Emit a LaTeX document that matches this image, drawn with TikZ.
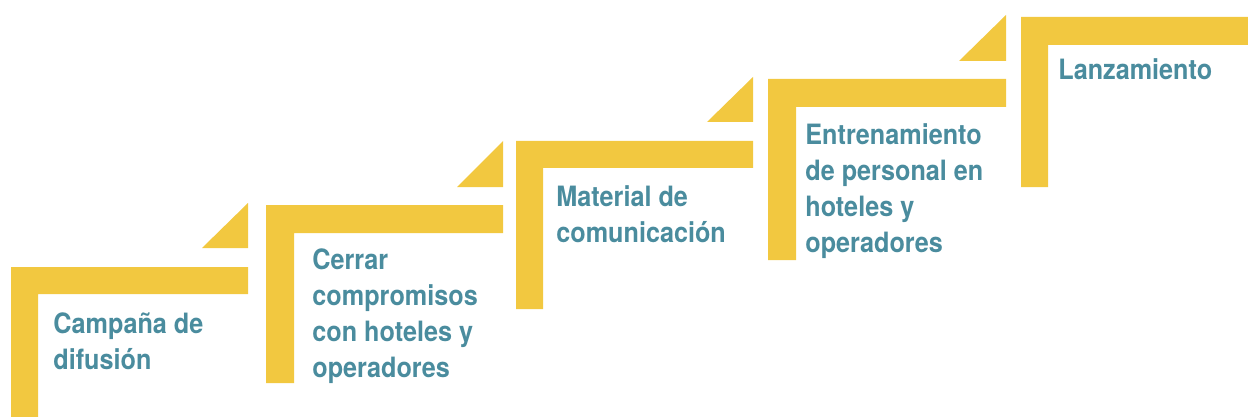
\documentclass[tikz,border=0pt]{standalone}
\usepackage{fontspec}
\newfontfamily\pasofont{TeX Gyre Heros}[FakeStretch=0.9]
\definecolor{amarillo}{RGB}{242,200,64}
\definecolor{azulverde}{RGB}{74,140,158}
\begin{document}
\begin{tikzpicture}[x=0.5pt,y=-0.5pt,
    barra/.style={fill=amarillo},
    paso/.style={anchor=north west,inner sep=0pt,align=left,text=azulverde,
      font=\pasofont\bfseries\fontsize{14}{18}\selectfont}]
  \useasboundingbox (0,0) rectangle (1248,417);
  % escalon 1
  \fill[barra] (11,267) -- (248,267) -- (248,294) -- (38,294) -- (38,417) -- (11,417) -- cycle;
  \fill[barra] (202,248) -- (248,248) -- (248,203) -- cycle;
  \node[paso] (campana) at (53,312) {Campaña de\\difusión};
  % escalon 2
  \fill[barra] (266,205) -- (503,205) -- (503,233) -- (294,233) -- (294,383) -- (266,383) -- cycle;
  \fill[barra] (457,187) -- (503,187) -- (503,141) -- cycle;
  \node[paso] (cerrar) at (312,248) {Cerrar\\compromisos\\con hoteles y\\operadores};
  % escalon 3
  \fill[barra] (516,141) -- (753,141) -- (753,168) -- (543,168) -- (543,309) -- (516,309) -- cycle;
  \fill[barra] (707,122) -- (753,122) -- (753,77) -- cycle;
  \node[paso] (material) at (556,185) {Material de\\comunicación};
  % escalon 4
  \fill[barra] (768,79) -- (1006,79) -- (1006,107) -- (796,107) -- (796,260) -- (768,260) -- cycle;
  \fill[barra] (959,61) -- (1006,61) -- (1006,15) -- cycle;
  \node[paso] (entrenamiento) at (805,123) {Entrenamiento\\de personal en\\hoteles y\\operadores};
  % escalon 5
  \fill[barra] (1021,17) -- (1248,17) -- (1248,45) -- (1048,45) -- (1048,187) -- (1021,187) -- cycle;
  \node[paso] (lanzamiento) at (1058,58) {Lanzamiento};
\end{tikzpicture}
\end{document}
